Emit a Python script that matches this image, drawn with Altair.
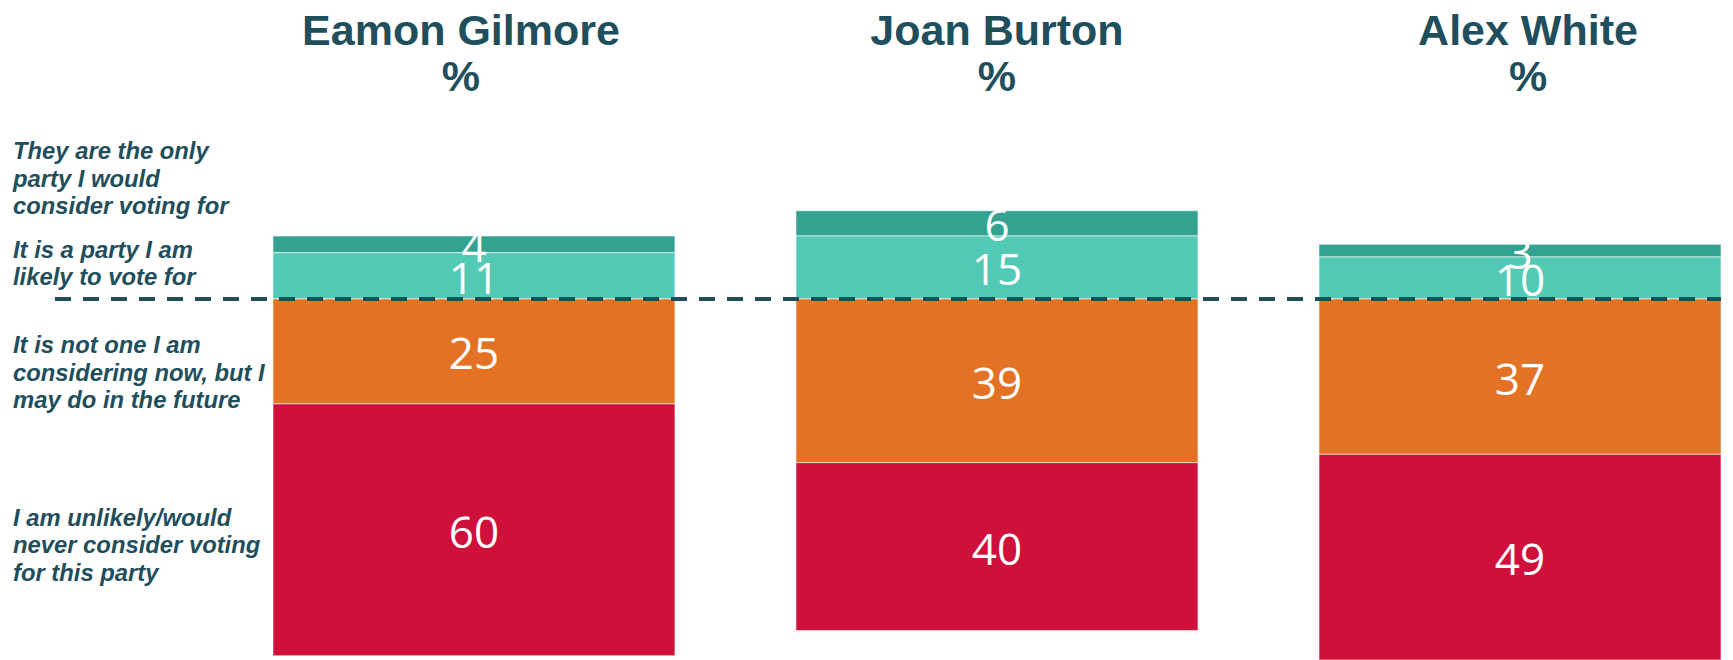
import altair as alt
import pandas as pd

leaders = ["Eamon Gilmore", "Joan Burton", "Alex White"]
categories = [
    "They are the only party I would consider voting for",
    "It is a party I am likely to vote for",
    "It is not one I am considering now, but I may do in the future",
    "I am unlikely/would never consider voting for this party",
]
only_party = [4, 6, 3]
likely = [11, 15, 10]
not_now = [25, 39, 37]
unlikely = [60, 40, 49]

# side of the dashed line (+1 above, -1 below) and stacking rank
signs = [1, 1, -1, -1]
ranks = [3, 2, 1, 4]
colors = ["#33A290", "#52CAB6", "#E37224", "#CF103B"]

# left-hand category labels (line-broken) and the value where their first line sits
cat_lines = [
    "They are the only\nparty I would\nconsider voting for",
    "It is a party I am\nlikely to vote for",
    "It is not one I am\nconsidering now, but I\nmay do in the future",
    "I am unlikely/would\nnever consider voting\nfor this party",
]
cat_label_y = [33.3, 9.8, -12.9, -54.0]

titles = [f"{n}\n%" for n in leaders]
title_dx = [-13, 0, 8]
title_y = 60.5

series = [only_party, likely, not_now, unlikely]
rows = []
for ci, cat in enumerate(categories):
    for li, lead in enumerate(leaders):
        v = series[ci][li]
        rows.append({"leader": lead, "category": cat, "value": v,
                     "signed": signs[ci] * v, "rank": ranks[ci]})
df = pd.DataFrame(rows)

lab_df = pd.DataFrame({"text": cat_lines, "y": cat_label_y})

W, H = 1713, 652
xscale = alt.Scale(domain=leaders, paddingInner=0.2314, paddingOuter=0.2533, align=1)
yscale = alt.Scale(domain=[-86, 69.3], nice=False, zero=False)

base = alt.Chart(df).transform_stack(
    stack="signed", groupby=["leader"], sort=[alt.SortField("rank", order="ascending")],
    as_=["y0", "y1"], offset="zero"
).transform_calculate(mid="(datum.y0 + datum.y1) / 2")

bars = base.mark_bar(stroke="white", strokeWidth=0.6).encode(
    x=alt.X("leader:N", scale=xscale, axis=None),
    y=alt.Y("y0:Q", scale=yscale, axis=None),
    y2="y1:Q",
    color=alt.Color("category:N", scale=alt.Scale(domain=categories, range=colors), legend=None),
)

values = base.mark_text(color="white", font="Open Sans", fontSize=44, baseline="middle", dy=5).encode(
    x=alt.X("leader:N", scale=xscale, axis=None),
    y=alt.Y("mid:Q", scale=yscale, axis=None),
    text="value:Q",
)

rule = alt.Chart(pd.DataFrame({"v": [0]})).mark_rule(
    color="#1F4E5A", strokeWidth=4, strokeDash=[16, 12]
).encode(
    y=alt.Y("v:Q", scale=yscale, axis=None),
    x=alt.value(47),
    x2=alt.value(W),
)

cat_text = alt.Chart(lab_df).mark_text(
    align="left", baseline="alphabetic", font="Liberation Sans", fontSize=23.8,
    fontWeight="bold", fontStyle="italic", color="#1F4E5C", lineBreak="\n", lineHeight=27.5
).encode(
    x=alt.value(5),
    y=alt.Y("y:Q", scale=yscale, axis=None),
    text="text:N",
)

title_layers = []
for lead, t, dx in zip(leaders, titles, title_dx):
    tdf = pd.DataFrame({"leader": [lead], "text": [t], "y": [title_y]})
    title_layers.append(
        alt.Chart(tdf).mark_text(
            align="center", baseline="alphabetic", font="Liberation Sans", fontSize=43,
            fontWeight="bold", color="#1F4E5C", lineBreak="\n", lineHeight=46, dx=dx
        ).encode(
            x=alt.X("leader:N", scale=xscale, axis=None),
            y=alt.Y("y:Q", scale=yscale, axis=None),
            text="text:N",
        )
    )

chart = alt.layer(bars, values, rule, cat_text, *title_layers).properties(
    width=W, height=H, padding=0, background="white"
).configure_view(stroke=None)

chart.save("out.html", embed_options={"renderer": "svg", "actions": False})
